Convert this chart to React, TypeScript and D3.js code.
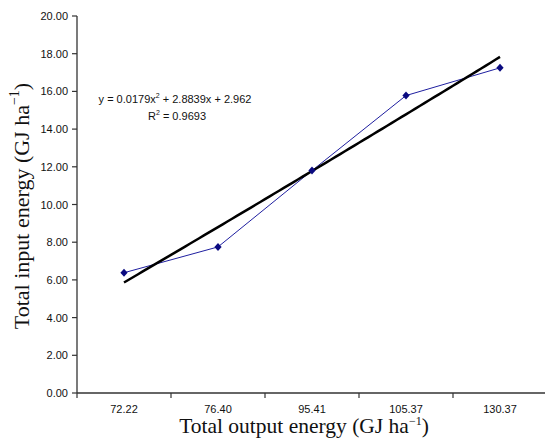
import React from "react";
import * as d3 from "d3";

const categories = ["72.22", "76.40", "95.41", "105.37", "130.37"];
const inputEnergy = [6.38, 7.75, 11.8, 15.78, 17.25];
const yTicks = [0, 2, 4, 6, 8, 10, 12, 14, 16, 18, 20];
const trendCoef = [0.0179, 2.8839, 2.962]; // a, b, c for y = a x^2 + b x + c (x = 1..n)
const equationText = ["y = 0.0179x", " + 2.8839x + 2.962"];
const r2Text = "0.9693";

const W = 545, H = 440;
const left = 77, right = 547, top = 16, bottom = 393;

export default function App() {
  const x = d3.scaleBand<string>().domain(categories).range([left, right]);
  const y = d3.scaleLinear().domain([0, 20]).range([bottom, top]);
  const cx = (c: string) => (x(c) as number) + x.bandwidth() / 2;

  const pts: [number, number][] = categories.map((c, i) => [cx(c), y(inputEnergy[i])]);
  const line = d3.line<[number, number]>();

  // trendline as given by the displayed polynomial, evaluated along x index 1..n
  const trendIdx = d3.range(1, categories.length + 0.001, 0.05);
  const [a, b, c0] = trendCoef;
  const xIdx = d3.scaleLinear().domain([1, categories.length]).range([cx(categories[0]), cx(categories[categories.length - 1])]);
  const trendPts: [number, number][] = trendIdx.map((t) => [xIdx(t), y(a * t * t + b * t + c0)]);

  const xTickPos = categories.map((c) => x(c) as number).concat([right]);
  const diamond = "M0,-4L3.6,0L0,4L-3.6,0Z";

  return (
    <svg width={W} height={H} style={{ position: "absolute", left: 0, top: 0, background: "#fff" }}>
      {/* axes */}
      <line x1={left} y1={top} x2={left} y2={bottom} stroke="#333" strokeWidth={1.3} />
      <line x1={left} y1={bottom} x2={W} y2={bottom} stroke="#333" strokeWidth={1.3} />
      {yTicks.map((t) => (
        <g key={t}>
          <line x1={left - 5} x2={left} y1={y(t)} y2={y(t)} stroke="#333" strokeWidth={1.2} />
          <text x={68} y={y(t) + 4} textAnchor="end" fontFamily="Liberation Sans, Arial, sans-serif" fontSize={11} fill="#111">
            {t.toFixed(2)}
          </text>
        </g>
      ))}
      {xTickPos.map((p, i) => (
        <line key={i} x1={p} x2={p} y1={bottom} y2={bottom + 5} stroke="#333" strokeWidth={1.2} />
      ))}
      {categories.map((c) => (
        <text key={c} x={cx(c)} y={413} textAnchor="middle" fontFamily="Liberation Sans, Arial, sans-serif" fontSize={11} fill="#111">
          {c}
        </text>
      ))}
      {/* data line */}
      <path d={line(pts) || ""} fill="none" stroke="#1f1fa0" strokeWidth={1} />
      {/* trend line */}
      <path d={line(trendPts) || ""} fill="none" stroke="#000" strokeWidth={2.5} />
      {pts.map((p, i) => (
        <path key={i} d={diamond} transform={`translate(${p[0]},${p[1]})`} fill="#0a0a80" />
      ))}
      {/* equation */}
      <text x={175} y={103} textAnchor="middle" fontFamily="Liberation Sans, Arial, sans-serif" fontSize={11} fill="#111">
        {equationText[0]}
        <tspan dy={-5} fontSize={7}>2</tspan>
        <tspan dy={5}>{equationText[1]}</tspan>
      </text>
      <text x={177} y={120} textAnchor="middle" fontFamily="Liberation Sans, Arial, sans-serif" fontSize={11} fill="#111">
        R<tspan dy={-5} fontSize={7}>2</tspan>
        <tspan dy={5}>{" = " + r2Text}</tspan>
      </text>
      {/* axis titles */}
      <text x={304} y={433} textAnchor="middle" fontFamily="Liberation Serif, Times New Roman, serif" fontSize={21.5} fill="#111">
        Total output energy (GJ ha<tspan dy={-8} fontSize={12}>−1</tspan>
        <tspan dy={8}>)</tspan>
      </text>
      <text transform="translate(29,206) rotate(-90)" textAnchor="middle" fontFamily="Liberation Serif, Times New Roman, serif" fontSize={22} fill="#111">
        Total input energy (GJ ha<tspan dy={-10} fontSize={14}>−1</tspan>
        <tspan dy={10}>)</tspan>
      </text>
    </svg>
  );
}
